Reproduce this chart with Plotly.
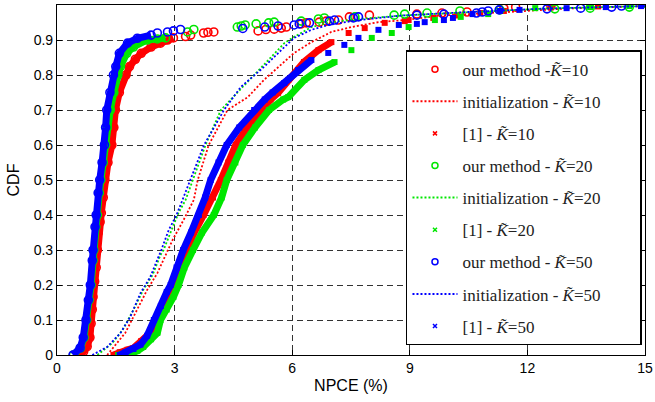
import plotly.graph_objects as go

# ---------------- data ----------------
# our method, dense part of CDF
our10_x = [0.55, 0.68, 0.77, 0.84, 0.87, 0.90, 0.92, 0.96, 1.00, 1.03, 1.05, 1.10, 1.13, 1.18, 1.22, 1.30, 1.40, 1.45, 1.49, 1.59, 1.76, 1.85, 2.00, 2.15, 2.40, 2.64, 2.82, 2.97]
our10_y = [0.0, 0.01, 0.024, 0.05, 0.09, 0.13, 0.166, 0.21, 0.25, 0.30, 0.349, 0.38, 0.406, 0.45, 0.50, 0.55, 0.60, 0.65, 0.70, 0.75, 0.80, 0.824, 0.845, 0.862, 0.88, 0.891, 0.90, 0.906]
our10_tx = [3.28, 3.41, 3.74, 3.85, 4.00, 5.13, 5.33, 5.54, 5.72, 5.85, 6.23, 6.36, 6.69, 6.87, 7.18, 7.46, 7.97, 9.18, 9.82, 10.46, 11.4, 11.7, 12.6]
our10_ty = [0.910, 0.914, 0.920, 0.922, 0.923, 0.926, 0.930, 0.931, 0.934, 0.937, 0.946, 0.949, 0.951, 0.954, 0.957, 0.966, 0.971, 0.974, 0.977, 0.980, 0.991, 0.994, 0.997]

our20_x = [0.42, 0.60, 0.69, 0.76, 0.82, 0.87, 0.92, 0.94, 0.99, 1.03, 1.08, 1.12, 1.18, 1.24, 1.28, 1.36, 1.45, 1.55, 1.62, 1.78, 1.95, 2.30, 2.56, 2.77]
our20_y = [0.0, 0.02, 0.05, 0.10, 0.157, 0.20, 0.27, 0.30, 0.366, 0.40, 0.463, 0.50, 0.55, 0.60, 0.65, 0.70, 0.75, 0.80, 0.824, 0.862, 0.88, 0.90, 0.903, 0.906]
our20_tx = [3.33, 3.49, 4.60, 4.70, 4.80, 5.08, 5.40, 5.54, 6.23, 6.67, 6.82, 7.60, 8.60, 8.87, 9.44, 10.28, 11.3, 12.7, 13.6, 14.6]
our20_ty = [0.923, 0.930, 0.937, 0.940, 0.943, 0.946, 0.949, 0.951, 0.954, 0.960, 0.963, 0.966, 0.971, 0.974, 0.977, 0.983, 0.986, 0.989, 0.991, 0.994]

our50_x = [0.41, 0.59, 0.67, 0.74, 0.80, 0.85, 0.90, 0.92, 0.97, 1.00, 1.05, 1.09, 1.15, 1.21, 1.24, 1.27, 1.35, 1.44, 1.50, 1.59, 1.80, 2.05, 2.40]
our50_y = [0.0, 0.02, 0.05, 0.10, 0.157, 0.20, 0.27, 0.30, 0.366, 0.40, 0.463, 0.50, 0.55, 0.60, 0.65, 0.70, 0.75, 0.80, 0.824, 0.862, 0.891, 0.905, 0.914]
our50_tx = [2.56, 2.82, 2.97, 3.15, 4.74, 5.30, 5.64, 6.05, 6.18, 6.44, 6.95, 7.08, 7.56, 7.69, 9.18, 9.87, 10.7, 10.85, 11.0, 11.28, 12.5, 13.36, 14.15, 14.4]
our50_ty = [0.920, 0.923, 0.926, 0.930, 0.933, 0.937, 0.940, 0.943, 0.946, 0.949, 0.954, 0.957, 0.963, 0.966, 0.971, 0.974, 0.977, 0.980, 0.983, 0.986, 0.989, 0.991, 0.994, 0.997]

# initialization (dotted lines)
init10_x = [1.28, 1.54, 1.74, 2.00, 2.30, 2.56, 2.77, 2.95, 3.23, 3.49, 3.59, 3.87, 4.35, 4.87, 5.28, 5.72, 6.05, 6.49, 7.00, 7.51, 8.20, 8.87, 9.80, 11.5, 13.0, 15.0]
init10_y = [0.0, 0.034, 0.063, 0.12, 0.186, 0.234, 0.286, 0.329, 0.386, 0.443, 0.50, 0.60, 0.70, 0.737, 0.786, 0.829, 0.863, 0.894, 0.923, 0.937, 0.951, 0.957, 0.970, 0.980, 0.990, 0.997]
init20_x = [1.03, 1.41, 1.67, 1.95, 2.20, 2.44, 2.64, 2.72, 2.90, 3.10, 3.28, 3.46, 3.79, 4.18, 4.60, 5.03, 5.46, 5.80, 6.05, 6.49, 7.00, 7.70, 8.80, 10.5, 12.5, 15.0]
init20_y = [0.0, 0.034, 0.071, 0.129, 0.186, 0.229, 0.286, 0.30, 0.351, 0.406, 0.443, 0.50, 0.60, 0.70, 0.749, 0.80, 0.849, 0.891, 0.909, 0.937, 0.951, 0.960, 0.970, 0.980, 0.990, 0.997]
init50_x = [0.90, 1.28, 1.62, 1.87, 2.13, 2.38, 2.66, 2.85, 3.05, 3.20, 3.39, 3.75, 4.26, 4.44, 4.69, 4.95, 5.28, 5.72, 6.05, 6.49, 6.92, 7.69, 8.80, 10.5, 12.5, 15.0]
init50_y = [0.0, 0.023, 0.063, 0.109, 0.177, 0.223, 0.30, 0.357, 0.40, 0.443, 0.50, 0.60, 0.70, 0.729, 0.766, 0.791, 0.823, 0.871, 0.906, 0.929, 0.943, 0.957, 0.970, 0.980, 0.990, 0.997]

# [1] (x markers): dense part and sparse tail
ref10_x = [1.44, 1.60, 1.80, 1.95, 2.15, 2.38, 2.51, 2.72, 2.94, 3.10, 3.31, 3.50, 3.74, 3.98, 4.18, 4.37, 4.56, 4.85, 5.20, 5.45, 5.64, 5.90, 6.30, 6.67, 7.00]
ref10_y = [0.0, 0.008, 0.015, 0.02, 0.04, 0.063, 0.10, 0.14, 0.20, 0.25, 0.30, 0.35, 0.40, 0.45, 0.50, 0.55, 0.60, 0.65, 0.70, 0.73, 0.749, 0.786, 0.837, 0.871, 0.894]
ref10_tx = [7.44, 7.85, 8.36, 8.87, 8.97, 9.60, 10.2, 10.8, 11.4, 12.6, 13.8, 14.9]
ref10_ty = [0.920, 0.934, 0.949, 0.954, 0.957, 0.963, 0.970, 0.977, 0.983, 0.994, 0.996, 0.997]

ref20_x = [1.56, 1.87, 2.05, 2.20, 2.40, 2.56, 2.64, 2.80, 2.97, 3.10, 3.25, 3.47, 3.70, 4.00, 4.20, 4.33, 4.55, 4.74, 5.05, 5.41, 5.77, 5.90, 6.31, 6.67, 7.08]
ref20_y = [0.0, 0.003, 0.012, 0.023, 0.045, 0.063, 0.10, 0.13, 0.166, 0.20, 0.25, 0.30, 0.35, 0.40, 0.45, 0.50, 0.55, 0.60, 0.65, 0.70, 0.73, 0.737, 0.786, 0.814, 0.837]
ref20_tx = [7.51, 8.03, 8.54, 8.97, 9.64, 10.3, 11.0, 12.2, 13.6, 14.6, 15.0]
ref20_ty = [0.871, 0.906, 0.920, 0.937, 0.957, 0.966, 0.974, 0.991, 0.994, 0.997, 1.0]

ref50_x = [1.60, 1.75, 1.95, 2.13, 2.30, 2.47, 2.65, 2.80, 2.90, 3.05, 3.22, 3.42, 3.62, 3.78, 3.92, 4.12, 4.33, 4.65, 5.03, 5.30, 5.50, 5.80, 6.15, 6.49]
ref50_y = [0.0, 0.008, 0.017, 0.03, 0.055, 0.10, 0.14, 0.18, 0.20, 0.25, 0.30, 0.35, 0.40, 0.45, 0.50, 0.55, 0.60, 0.65, 0.70, 0.73, 0.75, 0.777, 0.814, 0.843]
ref50_tx = [6.92, 7.33, 7.69, 8.20, 8.72, 9.18, 9.38, 9.87, 10.1, 10.6, 11.3, 11.8, 13.0, 14.0, 14.9]
ref50_ty = [0.863, 0.886, 0.906, 0.929, 0.943, 0.946, 0.951, 0.957, 0.963, 0.974, 0.983, 0.986, 0.991, 0.994, 0.997]

labels_our = ["our method -<i>K\u0303</i>=10", "our method - <i>K\u0303</i>=20", "our method - <i>K\u0303</i>=50"]
labels_init = ["initialization - <i>K\u0303</i>=10" + "\u00a0" * 8, "initialization - <i>K\u0303</i>=20", "initialization - <i>K\u0303</i>=50"]
labels_ref = ["[1] - <i>K\u0303</i>=10", "[1] - <i>K\u0303</i>=20", "[1] - <i>K\u0303</i>=50"]
colors = ["#ff0000", "#00e600", "#0000ff"]

xticks = [0, 3, 6, 9, 12, 15]
yticks = [0, 0.1, 0.2, 0.3, 0.4, 0.5, 0.6, 0.7, 0.8, 0.9, 1]
ytick_text = ["0", "0.1", "0.2", "0.3", "0.4", "0.5", "0.6", "0.7", "0.8", "0.9", "1"]

# ---------------- figure ----------------
fig = go.Figure()
series = [
    (our10_x, our10_y, our10_tx, our10_ty, init10_x, init10_y, ref10_x, ref10_y, ref10_tx, ref10_ty),
    (our20_x, our20_y, our20_tx, our20_ty, init20_x, init20_y, ref20_x, ref20_y, ref20_tx, ref20_ty),
    (our50_x, our50_y, our50_tx, our50_ty, init50_x, init50_y, ref50_x, ref50_y, ref50_tx, ref50_ty),
]

for i, (ox, oy, otx, oty, ix, iy, rx, ry, rtx, rty) in enumerate(series):
    c = colors[i]
    fig.add_trace(go.Scatter(x=ox, y=oy, mode="lines+markers", showlegend=False,
                             line=dict(color=c, width=7),
                             marker=dict(symbol="circle-open", size=8, color=c, line=dict(width=1.6))))
    fig.add_trace(go.Scatter(x=otx, y=oty, mode="markers", showlegend=False,
                             marker=dict(symbol="circle-open", size=8, color=c, line=dict(width=1.6))))
    fig.add_trace(go.Scatter(x=ix, y=iy, mode="lines", showlegend=False,
                             line=dict(color=c, width=1.8, dash="2px,2px")))
    fig.add_trace(go.Scatter(x=rx, y=ry, mode="lines+markers", showlegend=False,
                             line=dict(color=c, width=7),
                             marker=dict(symbol="square", size=6, color=c)))
    fig.add_trace(go.Scatter(x=rtx, y=rty, mode="markers", showlegend=False,
                             marker=dict(symbol="square", size=6, color=c)))

# legend entries
k = 0
for i in range(3):
    c = colors[i]
    fig.add_trace(go.Scatter(x=[None], y=[None], mode="markers", name=labels_our[i], legendgroup=f"g{k}",
                             marker=dict(symbol="circle-open", size=6, color=c, line=dict(width=1.5))))
    k += 1
    fig.add_trace(go.Scatter(x=[None], y=[None], mode="lines", name=labels_init[i], legendgroup=f"g{k}",
                             line=dict(color=c, width=2, dash="2px,2px")))
    k += 1
    fig.add_trace(go.Scatter(x=[None], y=[None], mode="markers", name=labels_ref[i], legendgroup=f"g{k}",
                             marker=dict(symbol="x-thin", size=4, color=c, line=dict(width=1.5, color=c))))
    k += 1

axis_common = dict(showline=True, linecolor="black", linewidth=1.2, mirror="allticks",
                   ticks="inside", ticklen=5, tickcolor="black", automargin=False,
                   showgrid=True, gridcolor="#333333", gridwidth=1, griddash="6px,4px",
                   zeroline=False, tickfont=dict(family="Liberation Sans, Arial", size=14, color="black"))

fig.update_layout(
    width=655, height=402,
    margin=dict(l=57, r=10, t=5, b=47),
    paper_bgcolor="white", plot_bgcolor="white",
    xaxis=dict(range=[0, 15], tickvals=xticks, title=dict(text="NPCE (%)", standoff=4,
               font=dict(family="Liberation Sans, Arial", size=16, color="black")), **axis_common),
    yaxis=dict(range=[0, 1], tickvals=yticks, ticktext=ytick_text, title=dict(text="CDF", standoff=10,
               font=dict(family="Liberation Sans, Arial", size=16, color="black")), **axis_common),
    legend=dict(x=0.5935, y=0.871, xanchor="left", yanchor="top", bgcolor="white",
                bordercolor="black", borderwidth=1.5, tracegroupgap=7, itemwidth=45,
                traceorder="grouped",
                font=dict(family="Liberation Serif, Times New Roman", size=17, color="#222")),
)

# remove the browser's default 8px page margin so the figure sits at the window origin
fig.write_html("out.html", config={"displayModeBar": False},
               post_script="document.body.style.margin='0';")
